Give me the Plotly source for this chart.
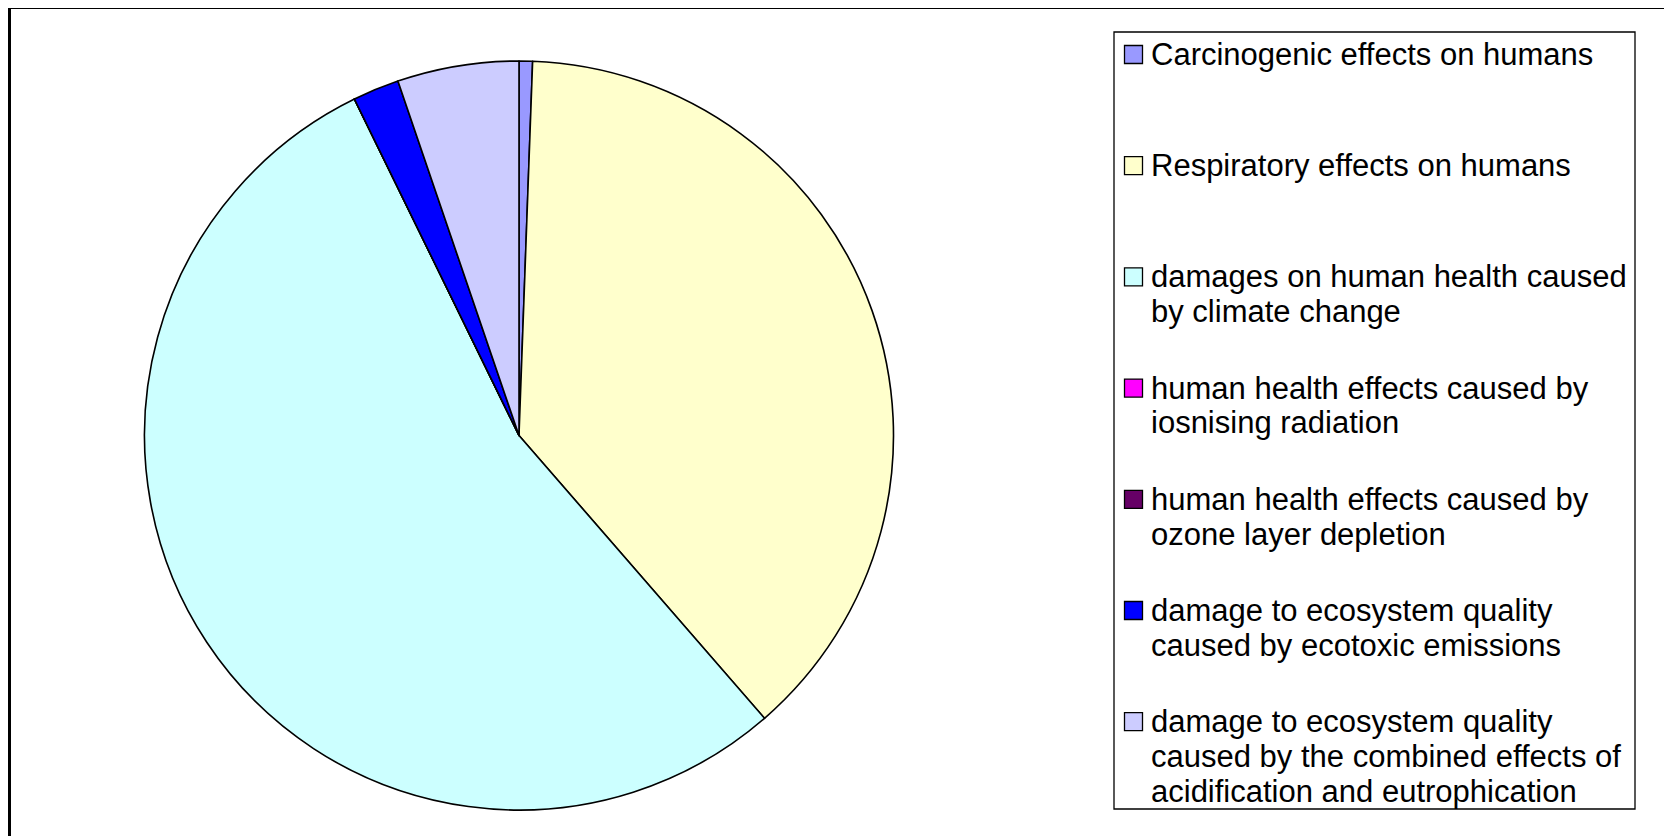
import plotly.graph_objects as go

W, H = 1672, 836
OFF = 8  # page body margin

labels = [
    "Carcinogenic effects on humans",
    "Respiratory effects on humans",
    "damages on human health caused<br>by climate change",
    "human health effects caused by<br>iosnising radiation",
    "human health effects caused by<br>ozone layer depletion",
    "damage to ecosystem quality<br>caused by ecotoxic emissions",
    "damage to ecosystem quality<br>caused by the combined effects of<br>acidification and eutrophication",
]
values = [0.58, 38.04, 54.14, 0.0, 0.0, 2.0, 5.24]
colors = ["#9999FF", "#FFFFCC", "#CCFFFF", "#FF00FF", "#660066", "#0000FF", "#CCCCFF"]

def px(x):
    return (x - OFF) / W

def py(y):
    return 1 - (y - OFF) / H

cx, cy, r = 519, 435.5, 374.5

fig = go.Figure(go.Pie(
    labels=labels,
    values=values,
    marker=dict(colors=colors, line=dict(color="black", width=1.6)),
    sort=False,
    direction="clockwise",
    rotation=0,
    textinfo="none",
    hoverinfo="label+percent",
    showlegend=False,
    domain=dict(x=[px(cx - r), px(cx + r)], y=[py(cy + r), py(cy - r)]),
))

shapes = []
annotations = []

# outer chart border
shapes.append(dict(type="rect", xref="paper", yref="paper",
                   x0=px(9.5), x1=px(1700), y0=py(880), y1=py(7.5),
                   line=dict(color="black", width=3), fillcolor="rgba(0,0,0,0)"))

# legend box
shapes.append(dict(type="rect", xref="paper", yref="paper",
                   x0=px(1114), x1=px(1635), y0=py(809), y1=py(32),
                   line=dict(color="black", width=1.3), fillcolor="white"))

first_y = 54.5
item_gap = 111.2
line_gap = 34.8
sw = 18
for i, (lab, col) in enumerate(zip(labels, colors)):
    y0 = first_y + i * item_gap
    shapes.append(dict(type="rect", xref="paper", yref="paper",
                       x0=px(1124.5), x1=px(1124.5 + sw), y0=py(y0 + sw / 2), y1=py(y0 - sw / 2),
                       line=dict(color="black", width=1.3), fillcolor=col))
    for k, line in enumerate(lab.split("<br>")):
        annotations.append(dict(xref="paper", yref="paper", x=px(1149), y=py(y0 + k * line_gap),
                                xanchor="left", yanchor="middle", showarrow=False,
                                text=line, font=dict(family="Arial, Liberation Sans, sans-serif",
                                                     size=31, color="black")))

fig.update_layout(
    width=W, height=H,
    margin=dict(l=0, r=0, t=0, b=0),
    paper_bgcolor="white",
    plot_bgcolor="white",
    shapes=shapes,
    annotations=annotations,
    showlegend=False,
)

fig.write_html("out.html")
